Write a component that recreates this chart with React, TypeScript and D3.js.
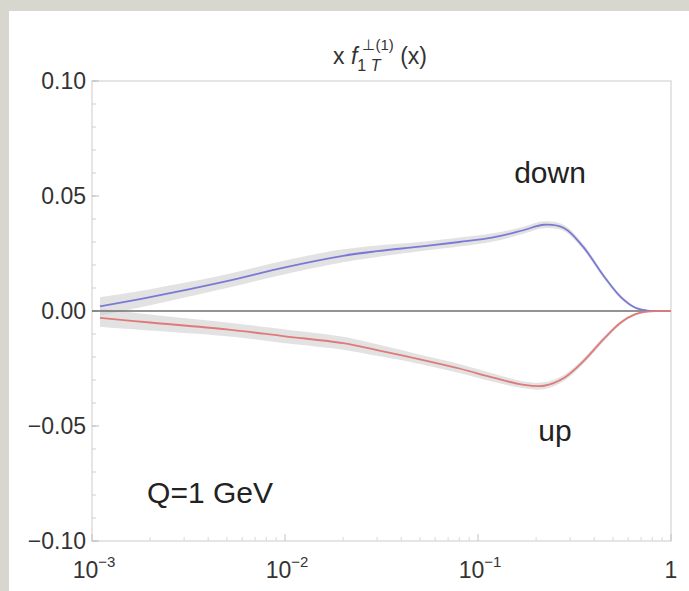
import React from "react";
import * as d3 from "d3";

const xValues = [0.0011, 0.002, 0.005, 0.01, 0.02, 0.03, 0.05, 0.08, 0.12, 0.17, 0.22, 0.28, 0.35, 0.45, 0.55, 0.65, 0.75, 0.85, 1.0];
const downValues = [0.002, 0.006, 0.013, 0.019, 0.024, 0.026, 0.028, 0.030, 0.032, 0.035, 0.0375, 0.036, 0.028, 0.015, 0.006, 0.0015, 0.0002, 0.0, 0.0];
const upValues = [-0.003, -0.005, -0.008, -0.011, -0.014, -0.017, -0.021, -0.025, -0.029, -0.032, -0.0325, -0.029, -0.022, -0.012, -0.005, -0.0015, -0.0003, 0.0, 0.0];
const bandHalfWidth = [0.004, 0.0035, 0.003, 0.003, 0.0028, 0.0025, 0.002, 0.002, 0.0018, 0.0015, 0.0015, 0.0013, 0.0012, 0.001, 0.0008, 0.0005, 0.0003, 0.0002, 0.0001];

const yTicks = [0.1, 0.05, 0.0, -0.05, -0.1];
const yTickLabels = ["0.10", "0.05", "0.00", "\u22120.05", "\u22120.10"];
const xTicks = [0.001, 0.01, 0.1, 1];
const xTickExponents = ["\u22123", "\u22122", "\u22121", ""];
const curveLabels = ["down", "up", "Q=1 GeV"];

const W = 689;
const H = 591;
const left = 92, right = 671, top = 81, bottom = 541;
const font = "'Liberation Sans', Arial, Helvetica, sans-serif";

export default function App() {
  const x = d3.scaleLog().domain([0.001, 1]).range([left, right]);
  const y = d3.scaleLinear().domain([-0.1, 0.1]).range([bottom, top]);

  const idx = xValues.map((_, i) => i);
  const curve = d3.curveCatmullRom.alpha(0.5);
  const line = (vals: number[]) =>
    d3.line<number>().x((i) => x(xValues[i])).y((i) => y(vals[i])).curve(curve)(idx) || "";
  const band = (vals: number[]) =>
    d3.area<number>()
      .x((i) => x(xValues[i]))
      .y0((i) => y(vals[i] - bandHalfWidth[i]))
      .y1((i) => y(vals[i] + bandHalfWidth[i]))
      .curve(curve)(idx) || "";

  const yMinor = d3.range(-0.1, 0.1001, 0.01);
  const xMinor: number[] = [];
  for (let e = -3; e < 0; e++) for (let k = 2; k <= 9; k++) xMinor.push(k * Math.pow(10, e));

  return (
    <svg width={W} height={H} style={{ position: "absolute", left: 0, top: 0 }} fontFamily={font}>
      <rect x={0} y={0} width={W} height={H} fill="#d7d7d0" />
      <rect x={9} y={11} width={W - 9} height={H - 11} fill="#ffffff" />

      {/* frame */}
      <rect x={left} y={top} width={right - left} height={bottom - top} fill="none" stroke="#d4d4d4" strokeWidth={1.2} />

      {/* y ticks */}
      {yMinor.map((v, i) => (
        <line key={"ym" + i} x1={left} x2={left + 4} y1={y(v)} y2={y(v)} stroke="#cfcfcf" strokeWidth={1} />
      ))}
      {yTicks.map((v, i) => (
        <g key={"yt" + i}>
          <line x1={left} x2={left + 7} y1={y(v)} y2={y(v)} stroke="#bdbdbd" strokeWidth={1} />
          <text x={left - 6} y={y(v)} dy="0.36em" textAnchor="end" fontSize={23} fill="#333">
            {yTickLabels[i]}
          </text>
        </g>
      ))}

      {/* x ticks */}
      {xMinor.map((v, i) => (
        <line key={"xm" + i} x1={x(v)} x2={x(v)} y1={bottom} y2={bottom - 4} stroke="#d8d8d8" strokeWidth={1} />
      ))}
      {xTicks.map((v, i) => (
        <g key={"xt" + i}>
          <line x1={x(v)} x2={x(v)} y1={bottom} y2={bottom - 7} stroke="#c4c4c4" strokeWidth={1} />
          {xTickExponents[i] ? (
            <text x={x(v) + 2} y={bottom + 37} textAnchor="middle" fontSize={23} fill="#333">
              10
              <tspan dy={-11} fontSize={15}>{xTickExponents[i]}</tspan>
            </text>
          ) : (
            <text x={x(v)} y={bottom + 37} textAnchor="middle" fontSize={23} fill="#333">1</text>
          )}
        </g>
      ))}

      {/* bands */}
      <path d={band(downValues)} fill="#cfcfcf" fillOpacity={0.6} />
      <path d={band(upValues)} fill="#cfcfcf" fillOpacity={0.6} />

      {/* zero line */}
      <line x1={left} x2={right} y1={y(0)} y2={y(0)} stroke="#6f6f6f" strokeWidth={1.6} />

      {/* curves */}
      <path d={line(downValues)} fill="none" stroke="#7a7ad6" strokeWidth={1.8} />
      <path d={line(upValues)} fill="none" stroke="#e07a7a" strokeWidth={1.8} />

      {/* title */}
      <text x={380} y={64} textAnchor="middle" fontSize={23} fill="#333">
        x <tspan fontStyle="italic">f</tspan>
        <tspan dy={7} fontSize={16}>1</tspan>
        <tspan fontSize={16} fontStyle="italic"> T</tspan>
        <tspan dx={-18} dy={-21} fontSize={15}>⊥(1)</tspan>
        <tspan dy={14}> (x)</tspan>
      </text>

      {/* labels */}
      <text x={550} y={183} textAnchor="middle" fontSize={30} fill="#222">{curveLabels[0]}</text>
      <text x={555} y={441} textAnchor="middle" fontSize={30} fill="#222">{curveLabels[1]}</text>
      <text x={210} y={503} textAnchor="middle" fontSize={30} fill="#222">{curveLabels[2]}</text>
    </svg>
  );
}
